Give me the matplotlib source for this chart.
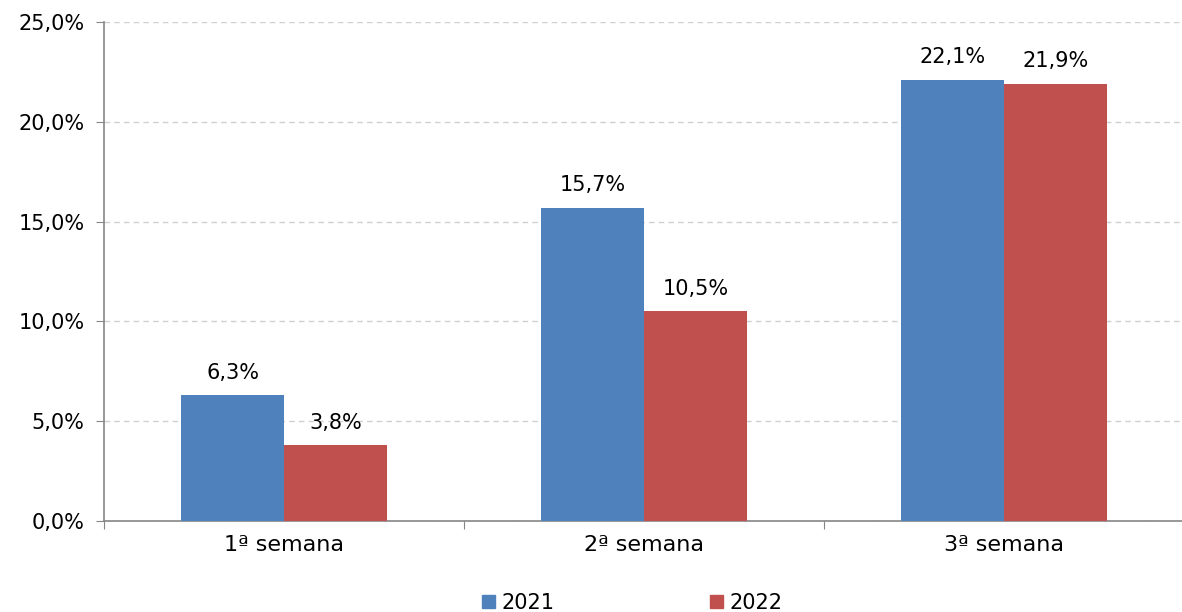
import numpy as np
import matplotlib
matplotlib.use("Agg")
import matplotlib.pyplot as plt
from matplotlib.patches import Patch

categories = ["1ª semana", "2ª semana", "3ª semana"]
series_names = ["2021", "2022"]
values_2021 = [6.3, 15.7, 22.1]
values_2022 = [3.8, 10.5, 21.9]
y_ticks = [0, 5, 10, 15, 20, 25]

colors = ["#4F81BD", "#C0504D"]


def fmt(v):
    return f"{v:.1f}%".replace(".", ",")


def main():
    plt.rcParams["font.family"] = ["DejaVu Sans"]
    fig = plt.figure(figsize=(11.82, 6.12), dpi=100)
    ax = fig.add_axes([104 / 1182, 91 / 612, 1080 / 1182, 499 / 612])

    x = np.arange(len(categories))
    width = 0.286
    for i, (vals, name) in enumerate(zip([values_2021, values_2022], series_names)):
        pos = x + (i - 0.5) * width
        bars = ax.bar(pos, vals, width=width, color=colors[i], label=name, zorder=3)
        for b, v in zip(bars, vals):
            ax.annotate(fmt(v), (b.get_x() + b.get_width() / 2, v),
                        xytext=(0, 9), textcoords="offset points",
                        ha="center", va="bottom", fontsize=15)

    ax.set_xlim(-0.5, len(categories) - 0.5)
    ax.set_ylim(0, 25)
    ax.set_yticks(y_ticks)
    ax.set_yticklabels([fmt(v) for v in y_ticks], fontsize=15)
    ax.yaxis.grid(True, color="#D0D0D0", linestyle=(0, (4, 3)), linewidth=1, zorder=0)

    # category labels in the middle, ticks on the boundaries
    ax.set_xticks(np.arange(len(categories) + 1) - 0.5)
    ax.set_xticklabels([])
    ax.set_xticks(x, minor=True)
    ax.set_xticklabels(categories, minor=True, fontsize=16)
    ax.tick_params(axis="x", which="minor", length=0, pad=10)
    ax.tick_params(axis="x", which="major", length=6, color="#868686")
    ax.tick_params(axis="y", length=6, color="#868686", pad=8)

    for side in ["top", "right"]:
        ax.spines[side].set_visible(False)
    for side in ["left", "bottom"]:
        ax.spines[side].set_color("#868686")
        ax.spines[side].set_linewidth(1.2)

    handles = [Patch(color=c, label=n) for c, n in zip(colors, series_names)]
    fig.legend(handles=handles, loc="center", bbox_to_anchor=(0.535, 0.015),
               ncol=2, frameon=False, fontsize=15, handlelength=0.6,
               handleheight=0.6, handletextpad=0.3, columnspacing=7.5)

    fig.savefig("out.png", dpi=100)


if __name__ == "__main__":
    main()
